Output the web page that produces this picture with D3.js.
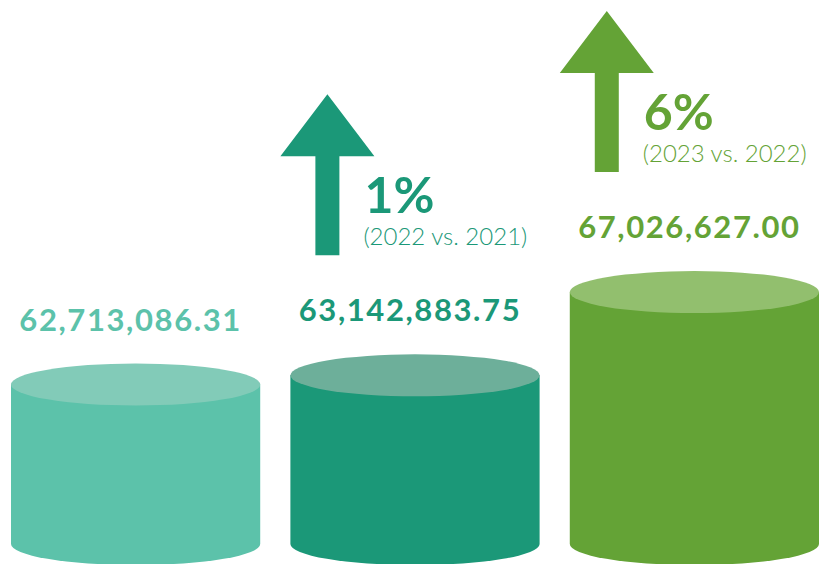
<!DOCTYPE html>
<html>
<head>
<meta charset="utf-8">
<script src="https://cdn.jsdelivr.net/npm/d3@7"></script>
<style>
  html, body { margin: 0; padding: 0; background: #fff; }
  svg { display: block; font-family: Lato, "Open Sans", sans-serif; }
</style>
</head>
<body>
<svg id="chart"></svg>
<script>
// data
const years = ["2021", "2022", "2023"];
const values = [62713086.31, 63142883.75, 67026627.00];
const valueLabels = ["62,713,086.31", "63,142,883.75", "67,026,627.00"];
const changes = [null, "1%", "6%"];
const changeNotes = [null, "(2022 vs. 2021)", "(2023 vs. 2022)"];

// colours
const bodyColors = ["#5cc2aa", "#1b9878", "#64a336"];
const topColors = ["#82cbb8", "#6daf9a", "#92bf6e"];

const width = 822;
const height = 564;
const baseY = 544;   // centre of the bottom ellipse
const ry = 21;

const svg = d3.select("#chart")
    .attr("width", width)
    .attr("height", height);

const xScale = d3.scaleBand()
    .domain(years)
    .range([11, 819])
    .paddingInner(0.108);

const yScale = d3.scaleLinear()
    .domain([55270000, 67030000])
    .range([baseY, 292]);

const rx = xScale.bandwidth() / 2;

const g = svg.selectAll("g.cyl")
    .data(years)
    .enter().append("g")
    .attr("class", "cyl");

// body of cylinder
g.append("path")
    .attr("fill", (d, i) => bodyColors[i])
    .attr("d", (d, i) => {
        const x0 = xScale(d), x1 = x0 + xScale.bandwidth();
        const yt = yScale(values[i]);
        return `M${x0},${yt} L${x0},${baseY} A${rx},${ry} 0 0 0 ${x1},${baseY} L${x1},${yt} Z`;
    });

// top ellipse
g.append("ellipse")
    .attr("cx", d => xScale(d) + rx)
    .attr("cy", (d, i) => yScale(values[i]))
    .attr("rx", rx)
    .attr("ry", ry)
    .attr("fill", (d, i) => topColors[i]);

// value labels
const labelY = i => yScale(values[i]) - 54;
g.append("text")
    .attr("x", d => xScale(d) + rx - 5)
    .attr("y", (d, i) => labelY(i))
    .attr("text-anchor", "middle")
    .attr("font-size", 31)
    .attr("font-weight", 700)
    .attr("letter-spacing", 1.6)
    .attr("fill", (d, i) => bodyColors[i])
    .text((d, i) => valueLabels[i]);

// arrows + percent change
const withChange = g.filter((d, i) => changes[i] !== null);

withChange.append("path")
    .attr("fill", (d, i) => bodyColors[years.indexOf(d)])
    .attr("d", d => {
        const i = years.indexOf(d);
        const cx = xScale(d) + 37;
        const yb = labelY(i) - 66;
        const yh = yb - 99, ytip = yb - 161;
        return `M${cx - 12},${yb} L${cx - 12},${yh} L${cx - 47},${yh} L${cx},${ytip} ` +
               `L${cx + 47},${yh} L${cx + 12},${yh} L${cx + 12},${yb} Z`;
    });

withChange.append("text")
    .attr("x", d => xScale(d) + 74)
    .attr("y", d => labelY(years.indexOf(d)) - 66 - 42)
    .attr("font-size", 50)
    .attr("font-weight", 700)
    .attr("fill", d => bodyColors[years.indexOf(d)])
    .text(d => changes[years.indexOf(d)]);

withChange.append("text")
    .attr("x", d => xScale(d) + 73)
    .attr("y", d => labelY(years.indexOf(d)) - 66 - 10)
    .attr("font-size", 24)
    .attr("font-weight", 300)
    .attr("fill", d => bodyColors[years.indexOf(d)])
    .text(d => changeNotes[years.indexOf(d)]);
</script>
</body>
</html>
